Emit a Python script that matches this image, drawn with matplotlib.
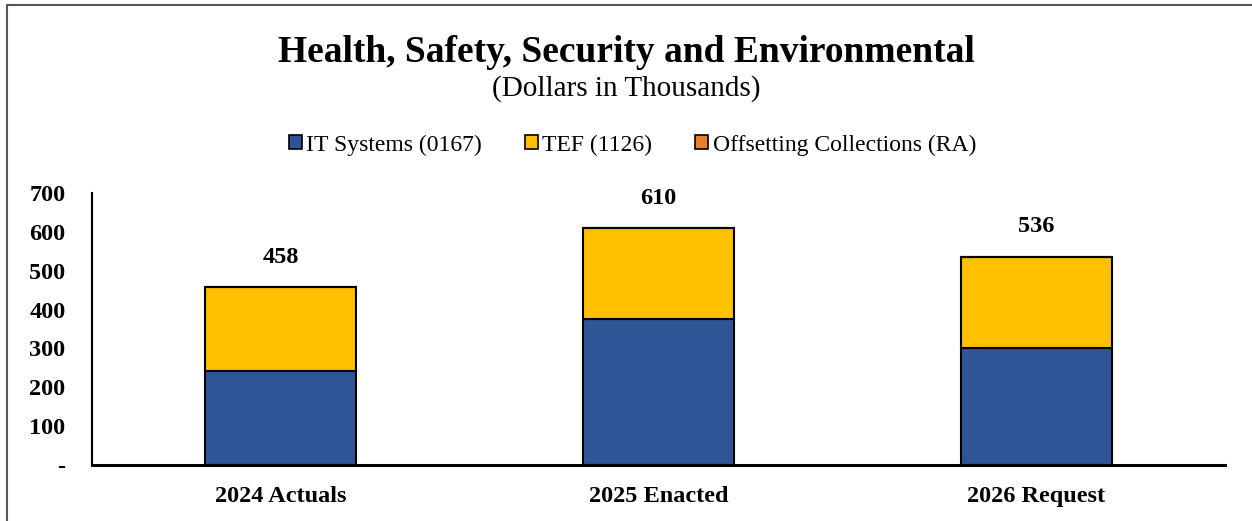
import matplotlib.pyplot as plt
from matplotlib.patches import Rectangle, Patch

categories = ["2024 Actuals", "2025 Enacted", "2026 Request"]
it_systems = [242, 375, 300]
tef = [216, 235, 236]
offsetting = [0, 0, 0]
series_names = ["IT Systems (0167)", "TEF (1126)", "Offsetting Collections (RA)"]
colors = ["#2F5597", "#FFC000", "#ED7D31"]
yticks = [0, 100, 200, 300, 400, 500, 600, 700]

plt.rcParams['font.family'] = ['Liberation Serif', 'DejaVu Serif']

fig = plt.figure(figsize=(12.52, 5.21), dpi=100)
ax = fig.add_axes([92 / 1252, 1 - 465 / 521, (1225 - 92) / 1252, (465 - 193) / 521])

x = list(range(len(categories)))
bottom = [0] * len(categories)
for vals, col in zip([it_systems, tef, offsetting], colors):
    ax.bar(x, vals, width=0.4, bottom=bottom, color=col, edgecolor="black", linewidth=1.5)
    bottom = [b + v for b, v in zip(bottom, vals)]

for xi, tot in zip(x, bottom):
    ax.annotate(f"{tot:,}", (xi, tot), xytext=(0, 14), textcoords="offset points",
                ha="center", va="bottom", fontsize=17.5, fontweight="bold")

ax.set_xlim(-0.5, 2.5)
ax.set_ylim(0, 700)
ax.set_yticks(yticks)
ax.set_yticklabels(["-" if t == 0 else f"{t:,}" for t in yticks], fontsize=17.5, fontweight="bold")
ax.set_xticks(x)
ax.set_xticklabels(categories, fontsize=17.5, fontweight="bold")
ax.tick_params(axis="both", length=0)
ax.tick_params(axis="y", pad=19)
ax.tick_params(axis="x", pad=15)
for s in ["top", "right"]:
    ax.spines[s].set_visible(False)
ax.spines["left"].set_linewidth(1.5)
ax.spines["bottom"].set_linewidth(2.2)

fig.text(0.5, 1 - 52 / 521, "Health, Safety, Security and Environmental",
         ha="center", va="center", fontsize=27, fontweight="bold")
fig.text(0.5, 1 - 89 / 521, "(Dollars in Thousands)", ha="center", va="center", fontsize=21)

handles = [Patch(facecolor=c, edgecolor="black", linewidth=1.2) for c in colors]
fig.legend(handles, series_names, loc="center", bbox_to_anchor=(0.505, 1 - 145 / 521),
           ncol=3, frameon=False, fontsize=17, handlelength=0.55, handleheight=0.55,
           handletextpad=0.2, columnspacing=1.8)

fig.patches.append(Rectangle((7 / 1252, -0.1), 1.2, 1 - 5 / 521 + 0.1, transform=fig.transFigure,
                             fill=False, edgecolor="#555555", linewidth=1.5))

fig.savefig("out.png", dpi=100)
